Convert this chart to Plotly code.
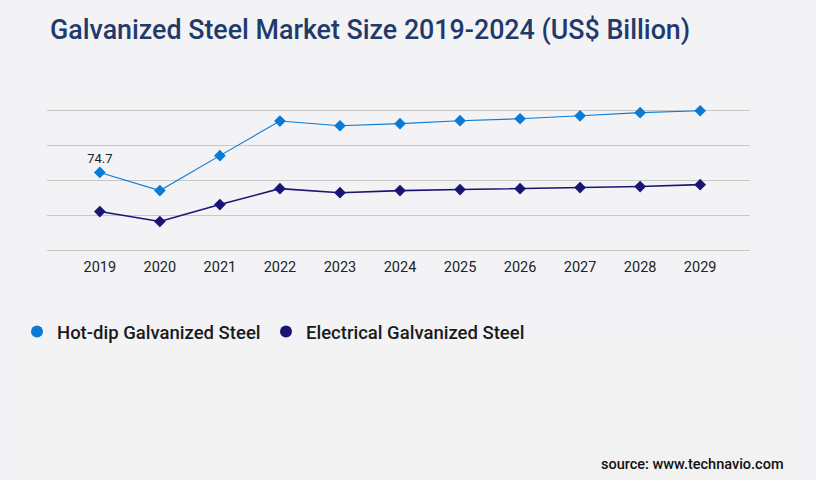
import plotly.graph_objects as go

years = ["2019", "2020", "2021", "2022", "2023", "2024", "2025", "2026", "2027", "2028", "2029"]
hot_dip = [74.7, 64.3, 84.3, 104.1, 101.4, 102.6, 104.3, 105.4, 107.1, 108.9, 110.0]
electrical = [52.3, 46.6, 56.3, 65.4, 63.1, 64.3, 64.9, 65.4, 66.0, 66.6, 67.7]
hot_dip_labels = ["74.7"] + [""] * 10
grid_vals = [30, 50, 70, 90, 110]
series_names = ["Hot-dip Galvanized Steel", "Electrical Galvanized Steel"]
series_colors = ["#0a7ad4", "#1a1575"]

W, H = 816, 480
ROBOTO = "Roboto, sans-serif"
BG = "#f3f3f6"

# plot area in pixels
L, R, T, B = 47, 750, 101.5, 253.8
Y0, Y1 = 28, 115
PW, PH = R - L, B - T


def px_x(p):
    return (p - L) / PW


def px_y(p):
    return (B - p) / PH


fig = go.Figure()
fig.add_trace(go.Scatter(
    x=years, y=hot_dip, name=series_names[0], mode="lines+markers+text", showlegend=False,
    line=dict(color=series_colors[0], width=1.1),
    marker=dict(symbol="diamond", size=9, color=series_colors[0]),
    text=hot_dip_labels, textposition="top center",
    textfont=dict(family=ROBOTO, size=13, color="#222222"),
    cliponaxis=False,
))
fig.add_trace(go.Scatter(
    x=years, y=electrical, name=series_names[1], mode="lines+markers", showlegend=False,
    line=dict(color=series_colors[1], width=1.6),
    marker=dict(symbol="diamond", size=9, color=series_colors[1]),
    cliponaxis=False,
))
# legend entries (circle symbols as in the reference)
legend_widths = [204, 0]
for nm, col, lw in zip(series_names, series_colors, legend_widths):
    fig.add_trace(go.Scatter(x=[None], y=[None], name=nm, mode="markers", legendwidth=lw,
                             marker=dict(symbol="circle", size=12, color=col)))

fig.update_layout(
    width=W, height=H,
    paper_bgcolor=BG, plot_bgcolor=BG,
    margin=dict(l=L, r=W - R, t=T, b=H - B),
    title=dict(text="Galvanized Steel Market Size 2019-2024 (US$ Billion)",
               x=50 / W, xanchor="left", y=1 - 30 / H, yanchor="middle",
               font=dict(family=ROBOTO, size=26.8, color="#1f3b6b", weight=500)),
    showlegend=True,
    legend=dict(orientation="h", x=px_x(17), xanchor="left", y=px_y(332), yanchor="middle",
                font=dict(family=ROBOTO, size=18.5, color="#1a1a1a", weight=500),
                itemsizing="constant", itemwidth=30,
                bgcolor="rgba(0,0,0,0)"),
    xaxis=dict(type="category", range=[-0.88, 10.83], showgrid=False, zeroline=False,
               showline=False, ticks="", ticklabelstandoff=2,
               tickfont=dict(family=ROBOTO, size=14.5, color="#222222")),
    yaxis=dict(range=[Y0, Y1], tickvals=grid_vals, showticklabels=False, showgrid=True,
               gridcolor="#c8c8c8", gridwidth=1, zeroline=False, showline=False),
    shapes=[dict(type="rect", xref="paper", yref="paper",
                 x0=px_x(30), x1=px_x(792), y0=px_y(480), y1=px_y(345),
                 fillcolor="#f2f2f2", line=dict(width=0), layer="below")],
    annotations=[dict(text="source: www.technavio.com", xref="paper", yref="paper",
                      x=px_x(786), xanchor="right", y=px_y(465), yanchor="middle",
                      showarrow=False,
                      font=dict(family=ROBOTO, size=14.5, color="#111111", weight=500))],
)

fig.write_html("out.html", config={"displayModeBar": False},
               post_script="document.body.style.margin='0';document.body.style.overflow='hidden';")
